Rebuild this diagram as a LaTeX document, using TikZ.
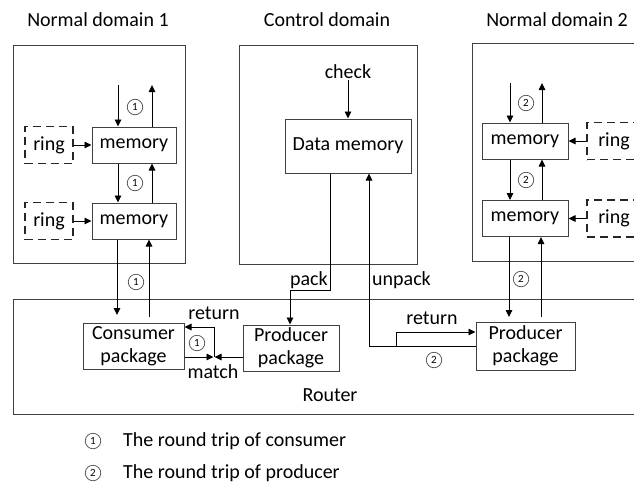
\documentclass[tikz,border=0pt]{standalone}
\usepackage{fontspec}
\setmainfont{Carlito}
\usetikzlibrary{positioning,arrows.meta,calc}

\begin{document}
\begin{tikzpicture}[
        x=1pt, y=-1pt,
        font=\fontsize{20}{22}\selectfont,
        >={Triangle[length=7pt, width=6.5pt]},
        dombox/.style ={draw=black!75, line width=1pt},
        blk/.style    ={draw=black!75, line width=1pt, minimum height=36pt,
                        inner sep=0pt, align=center},
        pkg/.style    ={draw=black!75, line width=1pt, minimum height=46pt,
                        inner sep=0pt, align=center, font=\fontsize{20}{23.5}\selectfont},
        ringbox/.style={draw=black!85, line width=1.6pt, dash pattern=on 8pt off 5pt,
                        minimum width=48pt, minimum height=37pt, inner sep=0pt},
        num/.style    ={draw=black!70, circle, line width=0.7pt, minimum size=15.5pt,
                        inner sep=0pt, font=\fontsize{11}{11}\selectfont},
        lbl/.style    ={inner sep=1pt},
        flow/.style   ={->, line width=0.9pt},
    ]
    \clip (0,0) rectangle (634,485);
    \fill[white] (0,0) rectangle (634,485);

    % ===================== Domains =====================
    \node[lbl] (t1) at (98,20)  {Normal domain 1};
    \node[lbl] (t2) at (327,20) {Control domain};
    \node[lbl] (t3) at (557,20) {Normal domain 2};

    \draw[dombox] (13,45) rectangle (185,263);
    \draw[dombox] (239,45) rectangle (417,264);
    \draw[dombox] (472,43) rectangle (650,261);

    % ===================== Normal domain 1 =====================
    \node[blk, minimum width=84pt] (m1a) at (134,145) {memory};
    \node[blk, minimum width=84pt] (m1b) at (134,221) {memory};
    \node[ringbox] (r1a) at (49,145) {ring};
    \node[ringbox] (r1b) at (49,221) {ring};
    \draw[flow] (r1a.east) -- (m1a.west);
    \draw[flow] (r1b.east) -- (m1b.west);

    \coordinate (in1) at (118,85);
    \coordinate (out1) at (152,85);
    \draw[flow] (in1) -- (in1 |- m1a.north);
    \draw[flow] (out1 |- m1a.north) -- (out1);
    \draw[flow] (in1 |- m1a.south) -- (in1 |- m1b.north);
    \draw[flow] (out1 |- m1b.north) -- (out1 |- m1a.south);

    % ===================== Control domain =====================
    \node[blk, minimum width=126pt, minimum height=54pt] (dmem) at (348,146) {Data memory};
    \node[lbl] (chk) at (348,72) {check};
    \draw[flow] (chk.south) -- (dmem.north);

    % ===================== Normal domain 2 =====================
    \node[blk, minimum width=86pt] (m2a) at (525,141) {memory};
    \node[blk, minimum width=86pt] (m2b) at (525,218.5) {memory};
    \node[ringbox, minimum width=54pt] (r2a) at (614,141) {ring};
    \node[ringbox, minimum width=54pt] (r2b) at (614,218.5) {ring};
    \draw[flow] (r2a.west) -- (m2a.east);
    \draw[flow] (r2b.west) -- (m2b.east);

    \coordinate (in2) at (510,83);
    \coordinate (out2) at (542,83);
    \draw[flow] (in2) -- (in2 |- m2a.north);
    \draw[flow] (out2 |- m2a.north) -- (out2);
    \draw[flow] (in2 |- m2a.south) -- (in2 |- m2b.north);
    \draw[flow] (out2 |- m2b.north) -- (out2 |- m2a.south);

    % ===================== Router =====================
    \draw[dombox] (13,299) rectangle (650,414);
    \node[lbl] (rt) at (330,395) {Router};

    \node[pkg, minimum width=101pt] (cons)  at (133.5,346) {Consumer\\package};
    \node[pkg, minimum width=96pt]  (prodA) at (291,348)   {Producer\\package};
    \node[pkg, minimum width=99pt, minimum height=48pt] (prodB) at (525.5,346) {Producer\\package};

    % domain 1 <-> consumer package
    \coordinate (d1) at (117,315);
    \coordinate (u1) at (149,317);
    \draw[flow] (d1 |- m1b.south) -- (d1);
    \draw[flow] (u1) -- (u1 |- m1b.south);

    % domain 2 <-> producer package
    \coordinate (d2) at (509,317);
    \coordinate (u2) at (541,317);
    \draw[flow] (d2 |- m2b.south) -- (d2);
    \draw[flow] (u2) -- (u2 |- m2b.south);

    % pack: data memory -> producer package
    \coordinate (pk1) at (330,290);
    \coordinate (pk2) at (290,290);
    \draw[flow] (pk1 |- dmem.south) -- (pk1) -- (pk2) -- (pk2 |- prodA.north);
    \node[lbl, anchor=south east] (pk) at (329,290) {pack};

    % unpack / return on the right
    \coordinate (ub) at (369,346);
    \coordinate (rb) at (396,332);
    \draw[flow] (prodB.west |- ub) -- (ub) -- (ub |- dmem.south);
    \node[lbl, anchor=west] (upk) at (371,280) {unpack};
    \draw[flow] (rb |- ub) -- (rb) -- (prodB.west |- rb);
    \node[lbl] (ret2) at (432,318) {return};

    % match / return on the left
    \coordinate (mt) at (214,357);
    \coordinate (rt1) at (214,327);
    \draw[flow, shorten >=0.5pt] (cons.east |- mt) -- (mt);
    \draw[flow, shorten >=0.5pt] (prodA.west |- mt) -- (mt);
    \draw[flow] (mt) -- (rt1) -- (cons.east |- rt1);
    \node[lbl] (ret1) at (214,313) {return};
    \node[lbl] (mtc) at (213,372) {match};

    % ===================== Trip markers =====================
    \foreach \p in {(135,107),(135,183),(136,282),(197,343)}
        \node[num] at \p {1};
    \foreach \p in {(526,103),(526,180),(521,279),(434,360)}
        \node[num] at \p {2};

    % ===================== Legend =====================
    \node[num] (k1) at (93,441) {1};
    \node[num] (k2) at (93,473) {2};
    \node[lbl, anchor=west] at (122,441) {The round trip of consumer};
    \node[lbl, anchor=west] at (122,473) {The round trip of producer};
\end{tikzpicture}
\end{document}
